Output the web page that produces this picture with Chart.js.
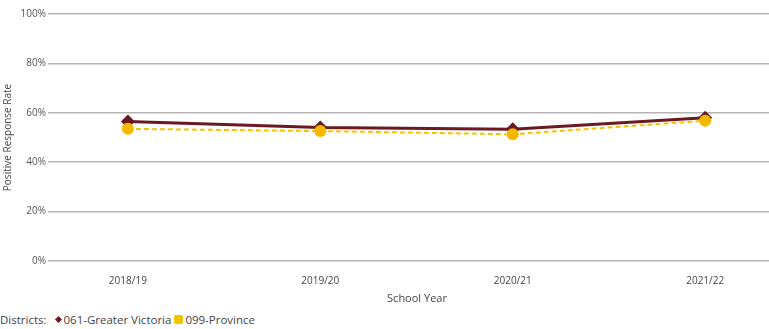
<!DOCTYPE html>
<html>
<head>
<meta charset="utf-8">
<script src="https://cdn.jsdelivr.net/npm/chart.js@4/dist/chart.umd.min.js"></script>
<style>
  html, body { margin: 0; padding: 0; background: #fff; }
  #wrap { position: relative; width: 769px; height: 329px; overflow: hidden; }
  #rateChart { position: absolute; left: 0; top: 0; }
  #legend {
    position: absolute; left: 0px; top: 312px;
    font: 11.5px "Open Sans", "Noto Sans", sans-serif; color: #444;
    white-space: nowrap;
  }
  #legend .item { margin-left: 3px; }
  #legend .sw { display: inline-block; vertical-align: middle; margin-right: 2px; }
  #legend .dia { width: 5px; height: 5px; background: #6b1a22; transform: rotate(45deg); margin: 0 3px 2px 3px; }
  #legend .sq { width: 9px; height: 9px; background: #f5c400; border-radius: 2px; margin-bottom: 2px; }
</style>
</head>
<body>
<div id="wrap">
  <!-- plot runs a little past the right edge, the wrapper clips it -->
  <canvas id="rateChart" width="788" height="305"></canvas>
  <div id="legend">Districts: <span class="item"><span class="sw dia"></span>061-Greater Victoria</span><span class="item"><span class="sw sq"></span>099-Province</span></div>
</div>
<script>
// -------- DATA --------
const schoolYears = ['2018/19', '2019/20', '2020/21', '2021/22'];
const greaterVictoria = [56.5, 54.0, 53.3, 58.0];
const province = [53.5, 52.6, 51.3, 56.8];
const yTicks = [0, 20, 40, 60, 80, 100];

const toPoints = arr => arr.map((v, i) => ({ x: i, y: v }));
const tickFont = { family: '"Open Sans", "Noto Sans", sans-serif', size: 10 };

// -------- CHART --------
const rateChart = new Chart(document.getElementById('rateChart'), {
  type: 'line',
  data: {
    datasets: [
      {
        label: '061-Greater Victoria',
        data: toPoints(greaterVictoria),
        borderColor: '#6b1a22',
        backgroundColor: '#6b1a22',
        borderWidth: 3,
        pointStyle: 'rectRot',
        pointRadius: 7,
        pointBorderWidth: 0,
        order: 1
      },
      {
        label: '099-Province',
        data: toPoints(province),
        borderColor: '#f5c400',
        backgroundColor: '#f7b800',
        borderWidth: 2,
        borderDash: [5, 3],
        pointStyle: 'circle',
        pointRadius: 6,
        pointBorderWidth: 0,
        order: 0
      }
    ]
  },
  options: {
    responsive: false,
    animation: false,
    layout: { padding: { top: 14, right: 0, left: 0, bottom: 0 } },
    plugins: {
      legend: { display: false },
      tooltip: { enabled: false }
    },
    scales: {
      x: {
        type: 'linear',
        min: -0.389,
        max: 3.394,
        afterBuildTicks: scale => { scale.ticks = schoolYears.map((_, i) => ({ value: i })); },
        afterFit: scale => {
          scale.height = 44;
          scale.paddingLeft = 0;
          scale.paddingRight = 0;
        },
        ticks: {
          color: '#444',
          font: tickFont,
          padding: 6,
          maxRotation: 0,
          callback: v => schoolYears[v]
        },
        grid: { display: false },
        border: { display: false },
        title: {
          display: true,
          text: 'School Year',
          color: '#444',
          font: { ...tickFont, size: 11 },
          padding: { top: 2, bottom: 0 }
        }
      },
      y: {
        min: 0,
        max: 100,
        afterBuildTicks: scale => { scale.ticks = yTicks.map(v => ({ value: v })); },
        afterFit: scale => {
          scale.width = 53;
          scale.paddingTop = 0;
          scale.paddingBottom = 0;
        },
        ticks: {
          color: '#555',
          font: tickFont,
          padding: 2,
          callback: v => v + '%'
        },
        grid: {
          color: '#b5b5b5',
          lineWidth: 1.5,
          drawTicks: true,
          tickLength: 5
        },
        border: { display: false },
        title: {
          display: true,
          text: 'Positive Response Rate',
          color: '#444',
          font: { ...tickFont, size: 10 },
          padding: { top: 2, bottom: 2 }
        }
      }
    }
  }
});
</script>
</body>
</html>
